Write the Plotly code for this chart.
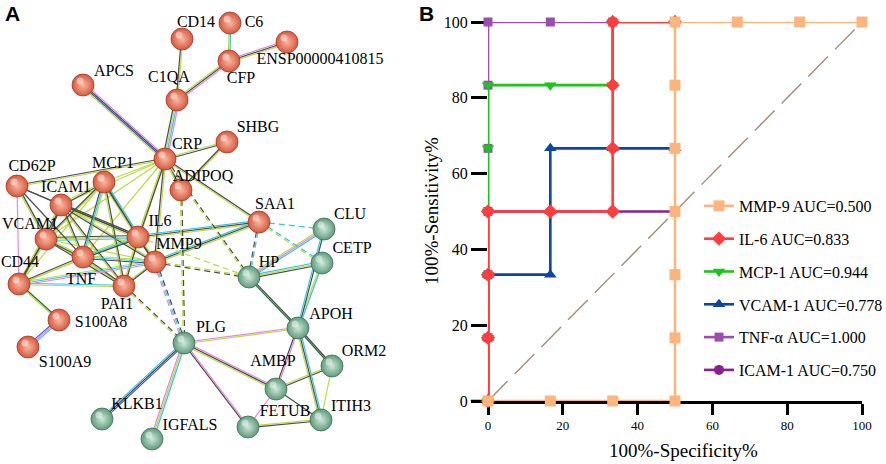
import math
import plotly.graph_objects as go

# ---------------- Panel A: STRING network ----------------
node_names = ["CD14", "C6", "ENSP00000410815", "CFP", "APCS", "C1QA", "CRP", "SHBG",
              "ADIPOQ", "CD62P", "MCP1", "ICAM1", "SAA1", "IL6", "VCAM1", "TNF", "MMP9",
              "CD44", "PAI1", "S100A8", "S100A9",
              "HP", "CLU", "CETP", "APOH", "PLG", "AMBP", "ORM2", "FETUB", "ITIH3",
              "KLKB1", "IGFALS"]
node_x = [182, 230, 287, 229, 83, 177, 165, 227, 181, 17, 104, 61, 259, 138, 46, 83, 155,
          19, 124, 59, 28,
          249, 324, 322, 298, 184, 276, 332, 248, 321, 102, 152]
node_y = [39, 23, 42, 61, 85, 100, 159, 142, 190, 186, 182, 205, 222, 237, 239, 257, 262,
          284, 286, 320, 347,
          277, 229, 263, 328, 343, 389, 366, 427, 420, 419, 439]
node_cluster = ["r"] * 21 + ["g"] * 11
label_x = [196, 254, 320, 241, 114, 169, 187, 258, 203, 32, 113, 66, 275, 160, 30, 81, 179,
           20, 117, 101, 65,
           269, 350, 352, 331, 211, 273, 364, 285, 351, 137, 190]
label_y = [23, 23, 60, 79, 72, 78, 145, 128, 177, 167, 164, 188, 205, 222, 225, 280, 245,
           263, 305, 323, 363,
           263, 215, 249, 315, 328, 362, 352, 412, 407, 405, 426]

YG, K, PK, CY, BL, GR = "#B9DA45", "#4A4A4A", "#E585DA", "#35C4E6", "#3A55C8", "#1F6E30"
edges = [
    ("CD14", "C1QA", [YG, K], "solid"), ("C6", "CFP", [CY, YG], "solid"),
    ("CFP", "ENSP00000410815", [PK, K, YG], "solid"), ("CFP", "C1QA", [PK, K, YG], "solid"),
    ("C1QA", "CRP", [PK, CY, YG, K], "solid"), ("APCS", "CRP", [PK, K, BL, YG], "solid"),
    ("SHBG", "CRP", [K, YG], "solid"), ("SHBG", "ADIPOQ", [YG, K], "solid"),
    ("CRP", "SAA1", [K, YG], "solid"), ("CRP", "CD62P", [YG, K], "solid"),
    ("CRP", "MCP1", [YG], "solid"), ("CRP", "ICAM1", [YG], "solid"),
    ("CRP", "IL6", [K, YG], "solid"), ("CRP", "VCAM1", [YG], "solid"),
    ("CRP", "TNF", [YG], "solid"), ("CRP", "MMP9", [YG, K], "solid"),
    ("CRP", "PAI1", [YG], "solid"), ("CRP", "ADIPOQ", [K, YG], "solid"),
    ("CRP", "HP", [K, YG], "dash"),
    ("CD62P", "ICAM1", [K], "solid"), ("CD62P", "VCAM1", [K, YG], "solid"),
    ("CD62P", "TNF", [K], "solid"), ("CD62P", "CD44", [PK], "solid"),
    ("CD62P", "IL6", [K], "solid"),
    ("MCP1", "ICAM1", [K, YG], "solid"), ("MCP1", "VCAM1", [YG, K], "solid"),
    ("MCP1", "TNF", [YG, CY, K], "solid"), ("MCP1", "IL6", [CY, K, YG], "solid"),
    ("MCP1", "MMP9", [YG, K], "solid"), ("MCP1", "PAI1", [K, YG], "solid"),
    ("MCP1", "CD44", [YG], "solid"),
    ("ICAM1", "VCAM1", [K, YG], "solid"), ("ICAM1", "TNF", [K, YG], "solid"),
    ("ICAM1", "IL6", [K, K, YG], "solid"), ("ICAM1", "MMP9", [YG, K], "solid"),
    ("ICAM1", "PAI1", [K, YG], "solid"), ("ICAM1", "CD44", [K, YG], "solid"),
    ("VCAM1", "TNF", [YG, K], "solid"), ("VCAM1", "IL6", [K, YG, CY], "solid"),
    ("VCAM1", "MMP9", [YG], "solid"), ("VCAM1", "CD44", [YG, K], "solid"),
    ("VCAM1", "PAI1", [YG, K], "solid"),
    ("IL6", "TNF", [K, CY, YG], "solid"), ("IL6", "MMP9", [YG, K], "solid"),
    ("IL6", "PAI1", [K, YG], "solid"), ("IL6", "SAA1", [CY, K, YG], "solid"),
    ("IL6", "CD44", [YG], "solid"),
    ("TNF", "MMP9", [YG, CY, K], "solid"), ("TNF", "PAI1", [K, YG], "solid"),
    ("TNF", "CD44", [YG, K], "solid"),
    ("MMP9", "PAI1", [K, YG], "solid"), ("MMP9", "SAA1", [CY, K, YG], "solid"),
    ("MMP9", "CD44", [PK, CY, YG], "solid"), ("PAI1", "CD44", [YG, CY], "solid"),
    ("MMP9", "HP", [YG, K], "dash"), ("MMP9", "PLG", [K, CY, PK], "dash"),
    ("PAI1", "PLG", [K, YG], "dash"), ("IL6", "HP", [YG], "dash"),
    ("ADIPOQ", "PLG", [K, YG], "dash"),
    ("SAA1", "HP", [CY, K], "dash"), ("SAA1", "CLU", [CY], "dash"),
    ("SAA1", "CETP", [CY, YG], "dash"),
    ("HP", "CLU", [YG, PK, CY], "solid"), ("HP", "CETP", [CY, YG, K], "solid"),
    ("HP", "APOH", [K, GR], "solid"), ("CLU", "APOH", [K, CY], "solid"),
    ("CETP", "APOH", [CY, YG], "solid"),
    ("CD44", "S100A8", [GR, YG], "solid"), ("S100A8", "S100A9", [CY, PK, BL], "solid"),
    ("PLG", "APOH", [PK, YG], "solid"), ("PLG", "KLKB1", [BL, K, CY], "solid"),
    ("PLG", "IGFALS", [CY, YG, PK], "solid"), ("PLG", "FETUB", [PK, K], "solid"),
    ("PLG", "AMBP", [PK, K, YG], "solid"),
    ("APOH", "AMBP", [PK, K], "solid"), ("APOH", "ORM2", [K, GR], "solid"),
    ("APOH", "ITIH3", [CY, K, YG], "solid"), ("AMBP", "ORM2", [YG, K], "solid"),
    ("AMBP", "FETUB", [PK], "solid"), ("AMBP", "ITIH3", [K], "solid"),
    ("FETUB", "ITIH3", [YG, K], "solid"), ("ORM2", "ITIH3", [YG], "solid"),
]

# ---------------- Panel B: ROC curves ----------------
step = 100 / 6
mmp9_x = [0, step, 2 * step, 3 * step, 3 * step, 3 * step, 3 * step, 3 * step, 3 * step, 3 * step, 4 * step, 5 * step, 100]
mmp9_y = [0, 0, 0, 0, step, 2 * step, 3 * step, 4 * step, 5 * step, 100, 100, 100, 100]
il6_x = [0, 0, 0, 0, step, 2 * step, 2 * step, 2 * step, 2 * step, 3 * step]
il6_y = [0, step, 2 * step, 3 * step, 3 * step, 3 * step, 4 * step, 5 * step, 100, 100]
mcp1_x = [0, 0, 0, 0, 0, 0, step, 2 * step, 2 * step]
mcp1_y = [0, step, 2 * step, 3 * step, 4 * step, 5 * step, 5 * step, 5 * step, 100]
vcam1_x = [0, 0, 0, step, step, step, 2 * step, 3 * step]
vcam1_y = [0, step, 2 * step, 2 * step, 3 * step, 4 * step, 4 * step, 4 * step]
tnf_x = [0, 0, 0, 0, 0, 0, 0, step, 2 * step, 3 * step]
tnf_y = [0, step, 2 * step, 3 * step, 4 * step, 5 * step, 100, 100, 100, 100]
icam1_x = [0, 0, 0, 0, step, 2 * step, 3 * step]
icam1_y = [0, step, 2 * step, 3 * step, 3 * step, 3 * step, 3 * step]

series = [  # drawing order (bottom -> top)
    ("TNF-α AUC=1.000", tnf_x, tnf_y, "#9B4DB0", "square", 9, 5),
    ("MCP-1 AUC=0.944", mcp1_x, mcp1_y, "#1DC41D", "triangle-down", 11, 3),
    ("VCAM-1 AUC=0.778", vcam1_x, vcam1_y, "#0B45A6", "triangle-up", 11, 4),
    ("ICAM-1 AUC=0.750", icam1_x, icam1_y, "#86238C", "circle", 10, 6),
    ("IL-6 AUC=0.833", il6_x, il6_y, "#FF3D3D", "diamond", 11, 2),
    ("MMP-9 AUC=0.500", mmp9_x, mmp9_y, "#FDB57F", "square", 11, 1),
]
x_ticks = [0, 20, 40, 60, 80, 100]
y_ticks = [0, 20, 40, 60, 80, 100]

W, H = 886, 464
fig = go.Figure()

# edges
pos = {n: (x, y) for n, x, y in zip(node_names, node_x, node_y)}
groups = {}
for a, b, cols, dash in edges:
    x0, y0 = pos[a]
    x1, y1 = pos[b]
    L = math.hypot(x1 - x0, y1 - y0)
    nx, ny = -(y1 - y0) / L, (x1 - x0) / L
    n = len(cols)
    for i, c in enumerate(cols):
        off = (i - (n - 1) / 2) * 1.5
        g = groups.setdefault((c, dash), ([], []))
        g[0].extend([x0 + nx * off, x1 + nx * off, None])
        g[1].extend([y0 + ny * off, y1 + ny * off, None])
for (c, dash), (xs, ys) in groups.items():
    fig.add_trace(go.Scatter(x=xs, y=ys, mode="lines", xaxis="x", yaxis="y",
                             line=dict(color=c, width=1.2, dash="6px,4px" if dash == "dash" else "solid"),
                             showlegend=False, hoverinfo="skip"))

# nodes
for cl, outer, inner, edge in [("r", "#D8583E", "#F7B9A2", "#9E3A28"),
                               ("g", "#5E9C7C", "#CFE8D8", "#3F6E55")]:
    xs = [x for x, c in zip(node_x, node_cluster) if c == cl]
    ys = [y for y, c in zip(node_y, node_cluster) if c == cl]
    fig.add_trace(go.Scatter(x=xs, y=ys, mode="markers", xaxis="x", yaxis="y",
                             marker=dict(size=22, color=outer, line=dict(color=edge, width=0.8),
                                         gradient=dict(type="radial", color=inner)),
                             showlegend=False, hoverinfo="skip"))
    fig.add_trace(go.Scatter(x=[x - 3 for x in xs], y=[y - 4 for y in ys], mode="markers",
                             xaxis="x", yaxis="y",
                             marker=dict(size=7, color="rgba(255,255,255,0.45)"),
                             showlegend=False, hoverinfo="skip"))

fig.add_trace(go.Scatter(x=label_x, y=label_y, text=node_names, mode="text", xaxis="x", yaxis="y",
                         textfont=dict(family="Liberation Serif", size=16, color="black"),
                         showlegend=False, hoverinfo="skip"))

# diagonal reference
fig.add_trace(go.Scatter(x=[0, 100], y=[0, 100], mode="lines", xaxis="x2", yaxis="y2",
                         line=dict(color="#A48B78", width=1.4, dash="28px,10px"),
                         showlegend=False, hoverinfo="skip"))

for name, xs, ys, col, sym, size, rank in series:
    fig.add_trace(go.Scatter(x=xs, y=ys, name=name, mode="lines+markers", xaxis="x2", yaxis="y2",
                             line=dict(color=col, width=2.6),
                             marker=dict(color=col, symbol=sym, size=size),
                             cliponaxis=False, legendgroup=name, legendrank=rank))

y0p = 1 - 401 / H
y1p = 1 - 22 / H
fig.update_layout(
    template="none",
    width=W, height=H, margin=dict(l=0, r=0, t=0, b=0, autoexpand=False),
    paper_bgcolor="white", plot_bgcolor="white",
    xaxis=dict(domain=[0, 440 / W], range=[0, 440], visible=False, fixedrange=True),
    yaxis=dict(domain=[0, 1], range=[464, 0], visible=False, fixedrange=True),
    xaxis2=dict(domain=[488 / W, 862 / W], range=[0, 100], anchor="y2", automargin=False,
                tickvals=x_ticks, ticktext=[str(v) for v in x_ticks],
                showgrid=False, zeroline=False, showline=True, linecolor="black", linewidth=2.5,
                ticks="outside", ticklen=11, tickwidth=2.5, tickcolor="black",
                tickfont=dict(family="Liberation Serif", size=13, color="black"),
                layer="below traces"),
    yaxis2=dict(domain=[y0p, y1p], range=[0, 100], anchor="x2", automargin=False,
                tickvals=y_ticks, ticktext=[str(v) for v in y_ticks],
                showgrid=False, zeroline=False, showline=False,
                ticks="outside", ticklen=16, tickwidth=2.5, tickcolor="black",
                tickfont=dict(family="Liberation Serif", size=16, color="black"),
                layer="below traces"),
    legend=dict(x=699 / W, xanchor="left", y=1 - 189 / H, yanchor="top",
                font=dict(family="Liberation Serif", size=16, color="black"),
                bgcolor="rgba(0,0,0,0)", tracegroupgap=9, itemwidth=30),
    shapes=[dict(type="line", xref="x2 domain", yref="y2", x0=-0.046, x1=0, y0=0, y1=0,
                 line=dict(color="black", width=2.5), layer="below")],
    annotations=[
        dict(text="<b>A</b>", x=3 / W, y=1 - 13 / H, xref="paper", yref="paper", showarrow=False,
             xanchor="left", yanchor="middle", font=dict(family="Liberation Sans", size=21, color="black")),
        dict(text="<b>B</b>", x=417 / W, y=1 - 13 / H, xref="paper", yref="paper", showarrow=False,
             xanchor="left", yanchor="middle", font=dict(family="Liberation Sans", size=21, color="black")),
        dict(text="100%-Specificity%", x=683 / W, y=1 - 450 / H, xref="paper", yref="paper",
             showarrow=False, xanchor="center", yanchor="middle",
             font=dict(family="Liberation Serif", size=19, color="black")),
        dict(text="100%-Sensitivity%", x=432 / W, y=1 - 211 / H, xref="paper", yref="paper",
             showarrow=False, xanchor="center", yanchor="middle", textangle=-90,
             font=dict(family="Liberation Serif", size=19, color="black")),
    ],
)

fig.write_html("out.html", config={"displayModeBar": False},
               post_script="document.body.style.margin='0';document.body.style.padding='0';"
                           "document.body.style.overflow='hidden';")
